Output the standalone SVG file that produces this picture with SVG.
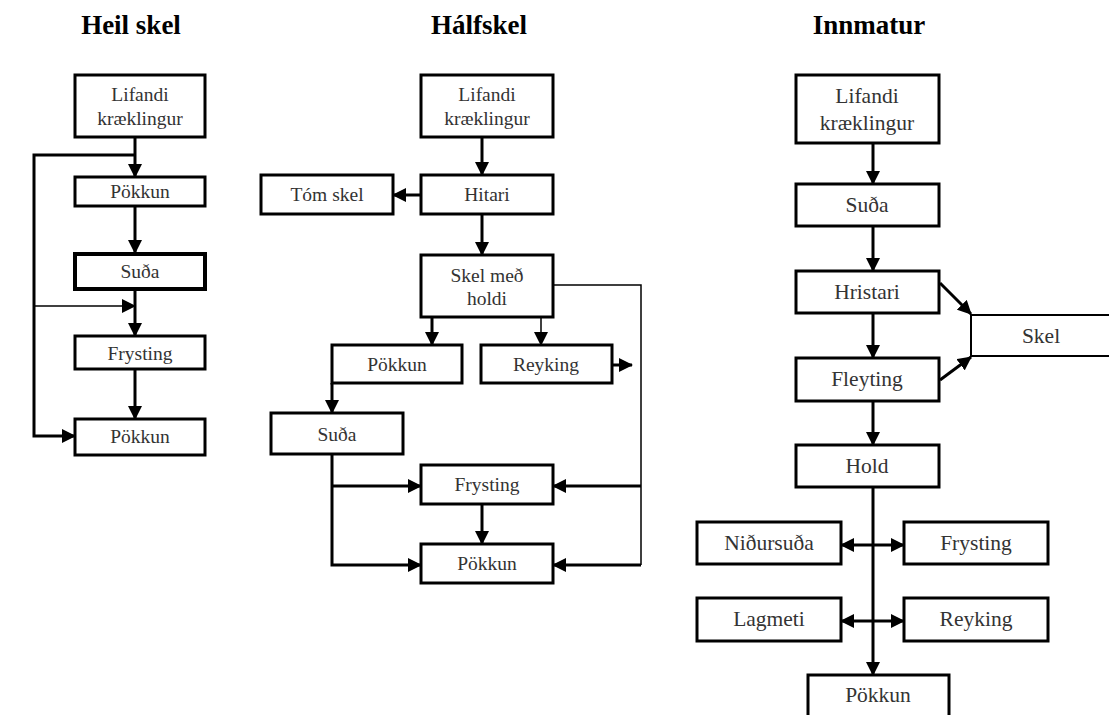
<svg xmlns="http://www.w3.org/2000/svg" width="1109" height="715" viewBox="0 0 1109 715">
<style>
.box{fill:#fff;stroke:#000;stroke-width:3}
.t{font-family:"Liberation Serif","Times New Roman",serif;font-size:19.5px;fill:#333;text-anchor:middle}
.tr{font-size:21.5px}
.title{font-family:"Liberation Serif","Times New Roman",serif;font-weight:bold;font-size:27px;fill:#000;text-anchor:middle}
.c{fill:none;stroke:#000;stroke-width:3}
.thin{stroke-width:1.5}
.a{marker-end:url(#ah)}
</style>
<defs>
<marker id="ah" markerUnits="userSpaceOnUse" markerWidth="14" markerHeight="14" viewBox="0 0 14 14" refX="13" refY="7" orient="auto">
<path d="M0,0 L14,7 L0,14 z" fill="#000"/>
</marker>
</defs>
<rect width="1109" height="715" fill="#fff"/>

<g id="titles">
<text class="title" x="131" y="34">Heil skel</text>
<text class="title" x="479" y="34">Hálfskel</text>
<text class="title" x="869" y="34">Innmatur</text>
</g>

<g id="connectors">
<!-- left -->
<path class="c a" d="M135,137 V177"/>
<path class="c a" d="M135,155 H34 V436 H75"/>
<path class="c a" d="M135,206 V253"/>
<path class="c a" d="M135,289 V336"/>
<path class="c thin a" d="M34,306 H135"/>
<path class="c a" d="M135,369 V419"/>
<!-- middle -->
<path class="c a" d="M482,137 V175"/>
<path class="c a" d="M421,195 H393"/>
<path class="c a" d="M482,214 V255"/>
<path class="c a" d="M432,317 V345"/>
<path class="c thin a" d="M541,317 V345"/>
<path class="c a" d="M612,365 H632"/>
<path class="c thin" d="M553,285 H641 V565"/>
<path class="c a" d="M332,383 V413"/>
<path class="c a" d="M332,454 V565 H421"/>
<path class="c a" d="M332,486 H421"/>
<path class="c a" d="M482,504 V544"/>
<path class="c a" d="M641,486 H553"/>
<path class="c a" d="M641,565 H553"/>
<!-- right -->
<path class="c a" d="M873,143 V184"/>
<path class="c a" d="M873,226 V271"/>
<path class="c a" d="M873,313 V358"/>
<path class="c a" d="M873,401 V445"/>
<path class="c a" d="M940,283 L971,314"/>
<path class="c a" d="M940,380 L971,357"/>
<path class="c a" d="M873,487 V675"/>
<path class="c a" d="M873,545 H841"/>
<path class="c a" d="M873,545 H904"/>
<path class="c a" d="M873,621 H841"/>
<path class="c a" d="M873,621 H904"/>
</g>

<!-- Heil skel -->
<g id="h-lifandi"><rect class="box" x="75" y="75" width="130" height="62"/><text class="t" x="140" y="101">Lifandi</text><text class="t" x="140" y="125">kræklingur</text></g>
<g id="h-pokkun1"><rect class="box" x="75" y="177" width="130" height="29"/><text class="t" x="140" y="198">Pökkun</text></g>
<g id="h-suda"><rect class="box" x="75" y="254" width="130" height="35" style="stroke-width:4"/><text class="t" x="140" y="278">Suða</text></g>
<g id="h-frysting"><rect class="box" x="75" y="336" width="130" height="33"/><text class="t" x="140" y="360">Frysting</text></g>
<g id="h-pokkun2"><rect class="box" x="75" y="419" width="130" height="36"/><text class="t" x="140" y="443">Pökkun</text></g>

<!-- Hálfskel -->
<g id="m-lifandi"><rect class="box" x="421" y="75" width="132" height="62"/><text class="t" x="487" y="101">Lifandi</text><text class="t" x="487" y="125">kræklingur</text></g>
<g id="m-hitari"><rect class="box" x="421" y="175" width="132" height="39"/><text class="t" x="487" y="201">Hitari</text></g>
<g id="m-tomskel"><rect class="box" x="261" y="175" width="132" height="39"/><text class="t" x="327" y="201">Tóm skel</text></g>
<g id="m-skel"><rect class="box" x="421" y="255" width="132" height="62"/><text class="t" x="487" y="282">Skel með</text><text class="t" x="487" y="305">holdi</text></g>
<g id="m-pokkun1"><rect class="box" x="332" y="345" width="130" height="38"/><text class="t" x="397" y="371">Pökkun</text></g>
<g id="m-reyking"><rect class="box" x="481" y="345" width="131" height="38"/><text class="t" x="546" y="371">Reyking</text></g>
<g id="m-suda"><rect class="box" x="271" y="413" width="132" height="41"/><text class="t" x="337" y="441">Suða</text></g>
<g id="m-frysting"><rect class="box" x="421" y="465" width="132" height="39"/><text class="t" x="487" y="491">Frysting</text></g>
<g id="m-pokkun2"><rect class="box" x="421" y="544" width="132" height="39"/><text class="t" x="487" y="570">Pökkun</text></g>

<!-- Innmatur -->
<g id="i-lifandi"><rect class="box" x="796" y="75" width="143" height="68"/><text class="t tr" x="867" y="103">Lifandi</text><text class="t tr" x="867" y="130">kræklingur</text></g>
<g id="i-suda"><rect class="box" x="796" y="184" width="143" height="42"/><text class="t tr" x="867" y="212">Suða</text></g>
<g id="i-hristari"><rect class="box" x="796" y="271" width="143" height="42"/><text class="t tr" x="867" y="299">Hristari</text></g>
<g id="i-fleyting"><rect class="box" x="796" y="358" width="143" height="43"/><text class="t tr" x="867" y="386">Fleyting</text></g>
<g id="i-skel"><rect class="box" x="971" y="315" width="150" height="41" style="stroke-width:2"/><text class="t tr" x="1041" y="343">Skel</text></g>
<g id="i-hold"><rect class="box" x="796" y="445" width="143" height="42"/><text class="t tr" x="867" y="473">Hold</text></g>
<g id="i-nidursuda"><rect class="box" x="697" y="522" width="144" height="42"/><text class="t tr" x="769" y="550">Niðursuða</text></g>
<g id="i-frysting"><rect class="box" x="904" y="522" width="144" height="42"/><text class="t tr" x="976" y="550">Frysting</text></g>
<g id="i-lagmeti"><rect class="box" x="697" y="598" width="144" height="43"/><text class="t tr" x="769" y="626">Lagmeti</text></g>
<g id="i-reyking"><rect class="box" x="904" y="598" width="144" height="43"/><text class="t tr" x="976" y="626">Reyking</text></g>
<g id="i-pokkun"><rect class="box" x="808" y="675" width="141" height="45"/><text class="t tr" x="878" y="702">Pökkun</text></g>
</svg>
